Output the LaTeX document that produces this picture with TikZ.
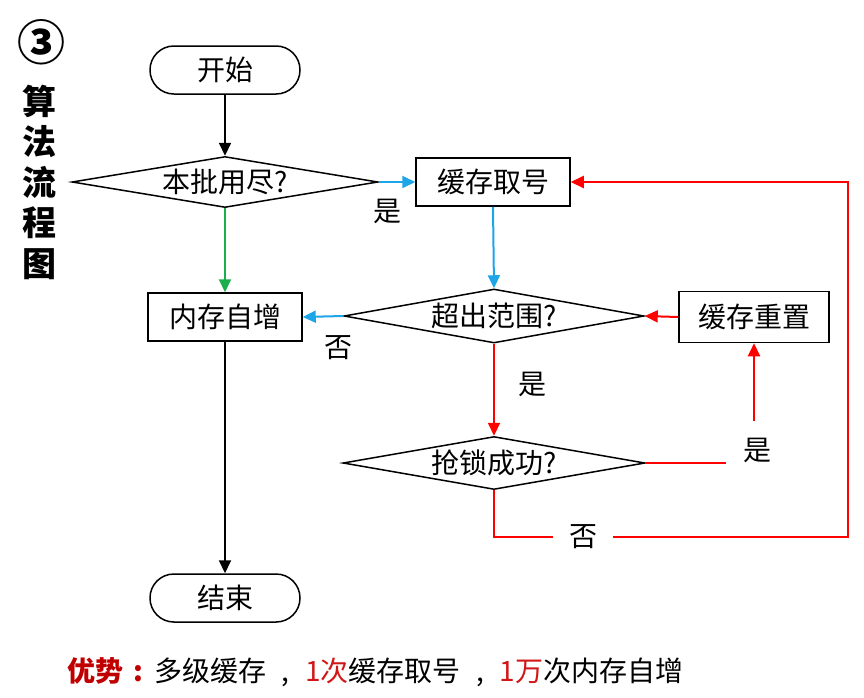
\documentclass[tikz,border=0pt]{standalone}
\usepackage{fontspec}
\setmainfont{Noto Sans CJK SC}
\usetikzlibrary{shapes.geometric,arrows.meta}
\definecolor{cblue}{HTML}{1CA6E8}
\definecolor{cgreen}{HTML}{1AAE4C}
\definecolor{cred}{HTML}{FF0000}
\definecolor{dred}{HTML}{C00000}
\definecolor{tred}{HTML}{D01818}
\newcommand{\mycomma}{\makebox[1.4em]{,}}
\begin{document}
\begin{tikzpicture}[x=1pt,y=-1pt,
  txt/.style={font=\fontsize{28}{32}\selectfont},
  term/.style={draw,line width=1.5pt,rounded corners=23.9pt,minimum width=150pt,minimum height=48pt,inner sep=0pt,txt},
  proc/.style={draw,line width=1.5pt,minimum width=154pt,minimum height=48pt,inner sep=0pt,txt},
  dec/.style={draw,line width=1.5pt,diamond,inner sep=0pt},
  gap/.style={fill=white,inner sep=0pt,txt},
  arr/.style={line width=2pt,-{Triangle[length=13pt,width=12pt]}},
]
\useasboundingbox (0,0) rectangle (864,697);
% title
\node[font=\bfseries\fontsize{48}{48}\selectfont] (num) at (41,42) {③};
\node[font=\bfseries\fontsize{34}{40.5}\selectfont,align=center] (ttl) at (40,182) {算\\法\\流\\程\\图};
% nodes
\node[term] (start) at (225,70) {开始};
\node[dec,minimum width=306pt,minimum height=51pt] (d1) at (225,182) {};
\node[txt] (d1t) at (225,182) {本批用尽?};
\node[proc] (fetch) at (493,182) {缓存取号};
\node[proc] (inc) at (225,317) {内存自增};
\node[dec,minimum width=300pt,minimum height=54pt] (d2) at (494,316) {};
\node[txt] (d2t) at (494,316) {超出范围?};
\node[proc,minimum width=150pt,minimum height=51pt] (reset) at (754,317) {缓存重置};
\node[dec,minimum width=302pt,minimum height=53pt] (d3) at (494,463) {};
\node[txt] (d3t) at (494,463) {抢锁成功?};
\node[term] (end) at (225,598) {结束};
\coordinate (c1) at (848,537);
% connectors
\draw[arr] (start) -- (d1);
\draw[arr,cblue] (d1.east) -- (fetch.west);
\node[txt] (y1) at (387,211) {是};
\draw[arr,cgreen] (d1.south) -- (inc.north);
\draw[arr,cblue] (fetch.south) -- (d2.north);
\draw[arr,cblue] (d2.west) -- (inc.east);
\node[txt] (n1) at (338,348) {否};
\draw[arr,cred] (reset.west) -- (d2.east);
\draw[arr,cred] (d2.south) -- (d3.north);
\node[txt] (y2) at (532,384) {是};
\draw[arr,cred] (d3.east) -| (reset.south);
\node[gap,minimum width=62pt,minimum height=58pt] (y3) at (757,450) {是};
\draw[arr,cred] (d3.south) |- (c1) |- (fetch.east);
\node[gap,minimum width=60pt,minimum height=40pt] (n2) at (583,537) {否};
\draw[arr] (inc) -- (end);
% bottom text
\node[anchor=west,font=\fontsize{28}{32}\selectfont,inner sep=0pt] (adv) at (67,672) {\textcolor{dred}{\bfseries 优势\makebox[1.1em]{:}}多级缓存\mycomma\textcolor{tred}{1次}缓存取号\mycomma\textcolor{tred}{1万}次内存自增};
\end{tikzpicture}
\end{document}
